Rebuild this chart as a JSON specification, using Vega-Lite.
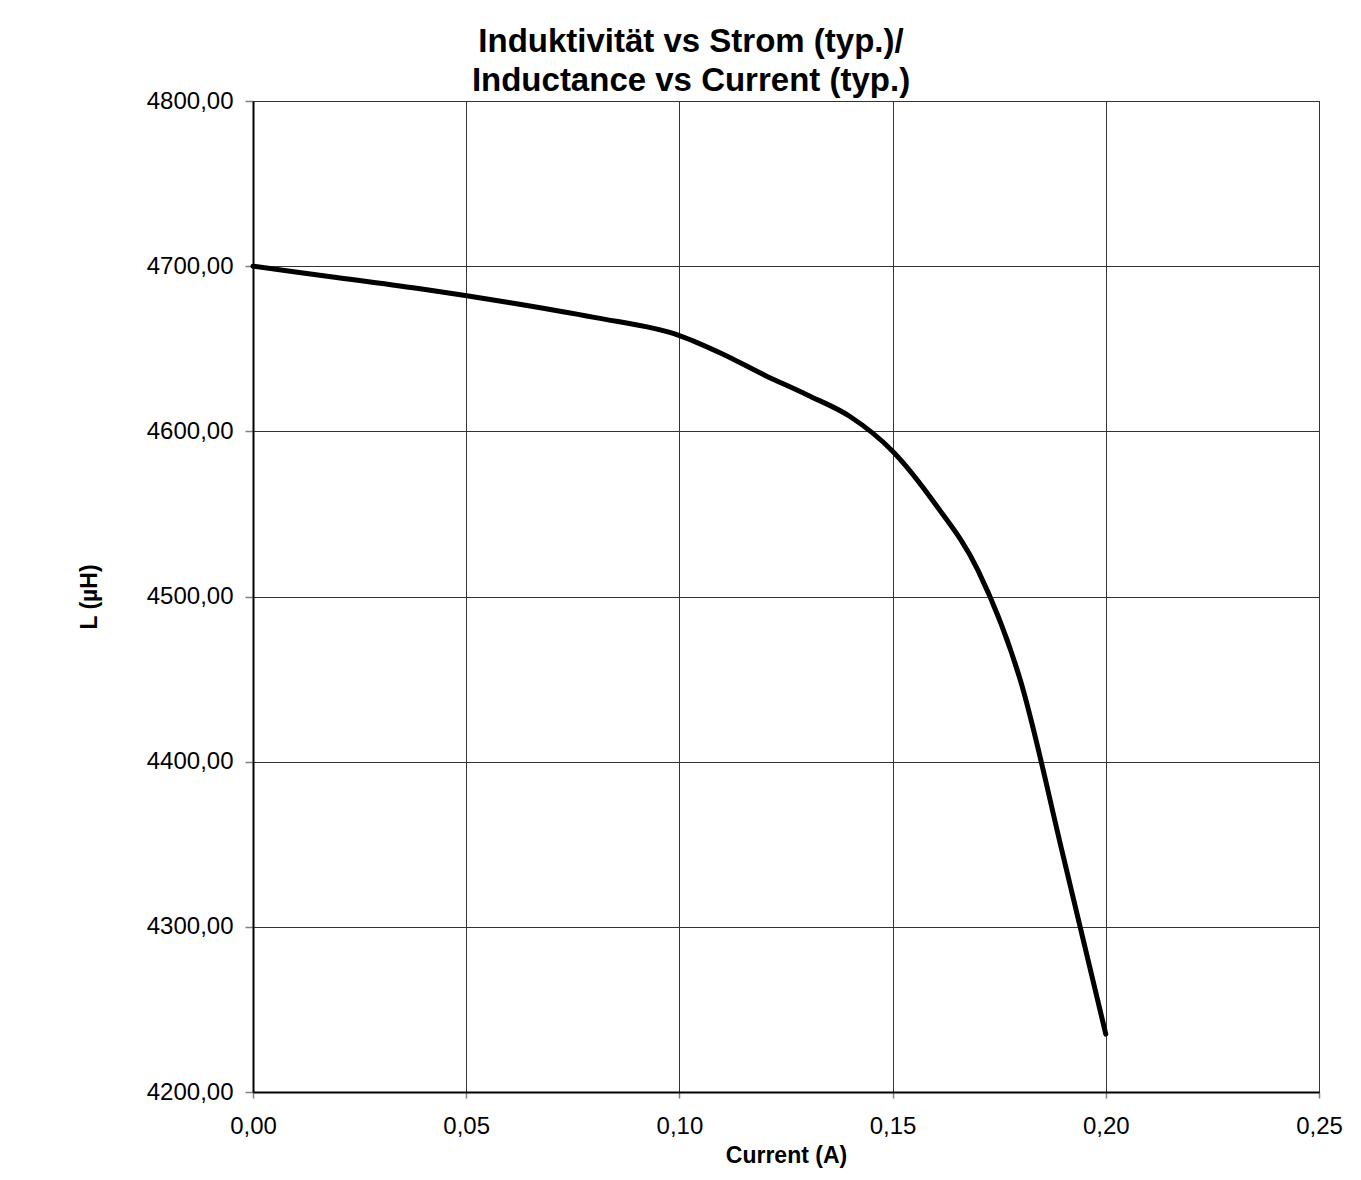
{
  "$schema": "https://vega.github.io/schema/vega-lite/v6.json",
  "autosize": {"type": "none"},
  "width": 1066,
  "height": 991,
  "padding": {"left": 253, "top": 101, "right": 42, "bottom": 88},
  "background": "white",
  "title": {
    "text": ["Induktivität vs Strom (typ.)/", "Inductance vs Current (typ.)"],
    "font": "Liberation Sans",
    "fontSize": 33,
    "fontWeight": "bold",
    "lineHeight": 39,
    "color": "black",
    "anchor": "middle",
    "dx": -95,
    "offset": -9
  },
  "data": {
    "values": [
      {"current": 0.00, "L": 4700},
      {"current": 0.02, "L": 4693},
      {"current": 0.04, "L": 4686},
      {"current": 0.06, "L": 4678},
      {"current": 0.08, "L": 4669},
      {"current": 0.10, "L": 4658},
      {"current": 0.11, "L": 4647},
      {"current": 0.12, "L": 4634},
      {"current": 0.13, "L": 4622},
      {"current": 0.14, "L": 4609},
      {"current": 0.15, "L": 4588},
      {"current": 0.16, "L": 4556},
      {"current": 0.17, "L": 4516},
      {"current": 0.18, "L": 4449},
      {"current": 0.19, "L": 4343},
      {"current": 0.20, "L": 4235}
    ]
  },
  "mark": {"type": "line", "interpolate": "monotone", "color": "black", "strokeWidth": 5, "strokeCap": "round"},
  "encoding": {
    "x": {
      "field": "current",
      "type": "quantitative",
      "scale": {"domain": [0, 0.25], "nice": false, "zero": false},
      "axis": {
        "title": "Current (A)",
        "values": [0, 0.05, 0.1, 0.15, 0.2, 0.25],
        "labelExpr": "replace(format(datum.value, '.2f'), '.', ',')",
        "tickSize": 6,
        "labelPadding": 16,
        "titlePadding": 6
      }
    },
    "y": {
      "field": "L",
      "type": "quantitative",
      "scale": {"domain": [4200, 4800], "nice": false, "zero": false},
      "axis": {
        "title": "L (µH)",
        "values": [4200, 4300, 4400, 4500, 4600, 4700, 4800],
        "labelExpr": "replace(format(datum.value, '.2f'), '.', ',')",
        "tickSize": 8,
        "labelPadding": 12,
        "titlePadding": 45
      }
    }
  },
  "config": {
    "font": "Liberation Sans",
    "view": {"stroke": "#333333", "strokeWidth": 1},
    "axis": {
      "labelFont": "Liberation Sans",
      "labelFontSize": 24,
      "labelColor": "black",
      "labelFlush": false,
      "labelOverlap": false,
      "titleFont": "Liberation Sans",
      "titleFontSize": 23,
      "titleFontWeight": "bold",
      "titleColor": "black",
      "domainColor": "black",
      "domainWidth": 2,
      "tickColor": "#808080",
      "tickWidth": 1.5,
      "gridColor": "#333333",
      "gridWidth": 1,
      "gridOpacity": 1
    }
  }
}
